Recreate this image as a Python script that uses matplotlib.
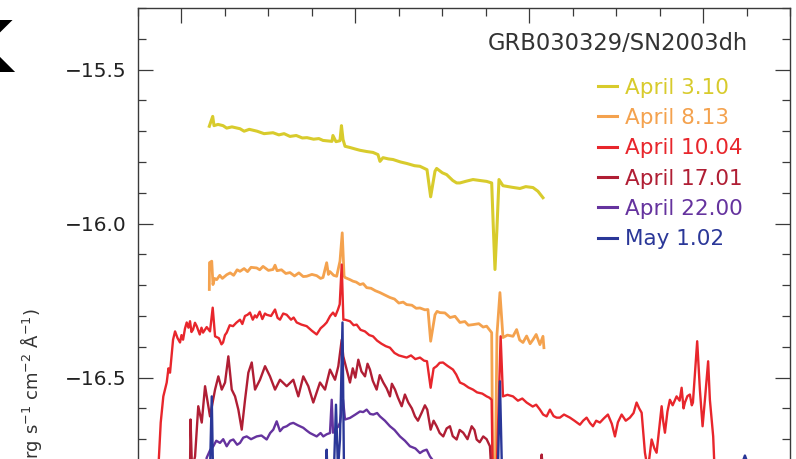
import matplotlib
matplotlib.use("Agg")
import matplotlib.pyplot as plt
from matplotlib.ticker import MultipleLocator

plt.rcParams["font.family"] = ["DejaVu Sans"]

lam_a = [4320, 4359, 4374, 4420, 4478, 4520, 4580, 4673, 4720, 4780, 4869, 4950, 5053, 5120, 5180,
         5248, 5320, 5390, 5444, 5520, 5580, 5628, 5731, 5742, 5777, 5823, 5840, 5858, 5881, 5938,
         6000, 6053, 6130, 6203, 6260, 6283, 6318, 6380, 6433, 6520, 6594, 6680, 6743, 6824, 6866,
         6916, 6935, 7000, 7050, 7120, 7165, 7203, 7280, 7353, 7430, 7510, 7568, 7588, 7606, 7628,
         7652, 7698, 7800, 7893, 7960, 8043, 8100, 8158]
flux_a = [-15.684, -15.652, -15.682, -15.678, -15.682, -15.690, -15.686, -15.692, -15.700, -15.694,
          -15.700, -15.708, -15.705, -15.712, -15.708, -15.717, -15.714, -15.722, -15.721, -15.726,
          -15.724, -15.730, -15.733, -15.714, -15.734, -15.731, -15.682, -15.727, -15.749, -15.753,
          -15.758, -15.762, -15.766, -15.769, -15.776, -15.798, -15.786, -15.790, -15.792, -15.800,
          -15.805, -15.812, -15.814, -15.825, -15.913, -15.830, -15.821, -15.835, -15.841, -15.860,
          -15.868, -15.868, -15.862, -15.857, -15.860, -15.863, -15.868, -16.020, -16.149, -16.020,
          -15.857, -15.877, -15.882, -15.886, -15.880, -15.883, -15.895, -15.916]

lam_b = [4320, 4322, 4348, 4362, 4380, 4405, 4440, 4470, 4520, 4560, 4600, 4640, 4673, 4720, 4760,
         4800, 4865, 4900, 4938, 5000, 5053, 5076, 5099, 5150, 5200, 5248, 5300, 5350, 5400, 5440,
         5500, 5555, 5600, 5628, 5670, 5690, 5708, 5750, 5785, 5823, 5849, 5870, 5881, 5938, 5973,
         6010, 6053, 6090, 6130, 6180, 6230, 6283, 6340, 6398, 6450, 6500, 6550, 6590, 6650, 6700,
         6743, 6800, 6835, 6866, 6916, 6940, 6973, 7030, 7090, 7146, 7203, 7260, 7300, 7353, 7420,
         7470, 7510, 7568, 7583, 7606, 7629, 7663, 7698, 7750, 7813, 7855, 7890, 7928, 7970, 8010,
         8043, 8080, 8123, 8158, 8169]
flux_b = [-16.214, -16.127, -16.122, -16.198, -16.178, -16.182, -16.168, -16.178, -16.166, -16.160,
          -16.168, -16.150, -16.155, -16.146, -16.156, -16.142, -16.144, -16.150, -16.139, -16.152,
          -16.149, -16.135, -16.153, -16.150, -16.162, -16.159, -16.170, -16.160, -16.172, -16.171,
          -16.165, -16.169, -16.178, -16.175, -16.127, -16.165, -16.156, -16.168, -16.171, -16.122,
          -16.030, -16.170, -16.175, -16.182, -16.187, -16.190, -16.198, -16.195, -16.208, -16.210,
          -16.218, -16.224, -16.232, -16.240, -16.245, -16.258, -16.255, -16.263, -16.265, -16.275,
          -16.274, -16.280, -16.279, -16.382, -16.296, -16.285, -16.289, -16.290, -16.305, -16.301,
          -16.321, -16.318, -16.330, -16.328, -16.325, -16.336, -16.333, -16.354, -16.900, -16.900,
          -16.360, -16.224, -16.370, -16.362, -16.366, -16.344, -16.378, -16.386, -16.365, -16.390,
          -16.377, -16.360, -16.393, -16.366, -16.403]

lam_c = [3733, 3761, 3791, 3830, 3850, 3868, 3903, 3926, 3955, 3983, 4000, 4018, 4040, 4060, 4080,
         4098, 4115, 4133, 4155, 4175, 4210, 4230, 4248, 4290, 4328, 4359, 4386, 4430, 4460, 4478,
         4500, 4520, 4555, 4593, 4630, 4673, 4700, 4730, 4760, 4788, 4820, 4845, 4865, 4900, 4930,
         4960, 4980, 5030, 5076, 5105, 5133, 5170, 5210, 5260, 5290, 5325, 5380, 5440, 5500, 5555,
         5600, 5640, 5670, 5710, 5743, 5770, 5800, 5820, 5843, 5862, 5881, 5938, 5980, 6015, 6060,
         6110, 6160, 6203, 6250, 6300, 6350, 6398, 6450, 6500, 6550, 6590, 6640, 6690, 6743, 6790,
         6824, 6866, 6900, 6935, 6970, 7008, 7060, 7123, 7160, 7203, 7250, 7300, 7353, 7400, 7460,
         7510, 7540, 7568, 7583, 7617, 7671, 7698, 7750, 7813, 7870, 7920, 7970, 8040, 8080, 8123,
         8160, 8200, 8238, 8280, 8315, 8353, 8400, 8468, 8520, 8583, 8620, 8660, 8700, 8733, 8770,
         8813, 8860, 8905, 8950, 8986, 9020, 9063, 9110, 9158, 9200, 9235, 9265, 9293, 9331, 9365,
         9408, 9440, 9465, 9523, 9540, 9561, 9590, 9618, 9650, 9695, 9730, 9753, 9775, 9791, 9820,
         9848, 9870, 9883, 9932, 9963, 9994, 10021, 10058, 10078, 10100, 10116, 10147]
flux_c = [-16.799, -16.646, -16.561, -16.516, -16.470, -16.484, -16.377, -16.350, -16.372, -16.386,
          -16.362, -16.377, -16.341, -16.321, -16.338, -16.317, -16.352, -16.344, -16.322, -16.333,
          -16.360, -16.338, -16.354, -16.336, -16.350, -16.273, -16.366, -16.372, -16.392, -16.386,
          -16.362, -16.354, -16.330, -16.333, -16.322, -16.312, -16.326, -16.300, -16.296, -16.289,
          -16.312, -16.298, -16.305, -16.286, -16.310, -16.292, -16.296, -16.300, -16.279, -16.306,
          -16.312, -16.292, -16.296, -16.312, -16.305, -16.321, -16.328, -16.333, -16.348, -16.360,
          -16.340, -16.330, -16.321, -16.300, -16.289, -16.300, -16.279, -16.262, -16.133, -16.312,
          -16.312, -16.317, -16.330, -16.328, -16.345, -16.350, -16.362, -16.366, -16.380, -16.390,
          -16.398, -16.403, -16.420, -16.428, -16.432, -16.435, -16.428, -16.440, -16.435, -16.445,
          -16.447, -16.533, -16.470, -16.463, -16.452, -16.451, -16.462, -16.474, -16.490, -16.516,
          -16.522, -16.532, -16.539, -16.548, -16.552, -16.561, -16.565, -16.572, -16.900, -16.900,
          -16.366, -16.561, -16.556, -16.561, -16.575, -16.568, -16.581, -16.594, -16.588, -16.604,
          -16.620, -16.626, -16.604, -16.625, -16.630, -16.630, -16.620, -16.630, -16.640, -16.653,
          -16.640, -16.630, -16.648, -16.658, -16.640, -16.646, -16.632, -16.620, -16.650, -16.691,
          -16.645, -16.620, -16.640, -16.630, -16.615, -16.581, -16.600, -16.614, -16.744, -16.799,
          -16.701, -16.730, -16.744, -16.593, -16.640, -16.679, -16.610, -16.572, -16.590, -16.561,
          -16.575, -16.533, -16.600, -16.581, -16.560, -16.555, -16.590, -16.581, -16.382, -16.539,
          -16.658, -16.572, -16.447, -16.572, -16.640, -16.691, -16.900]

lam_d = [4098, 4104, 4121, 4156, 4193, 4233, 4271, 4328, 4386, 4424, 4463, 4501, 4539, 4578, 4616,
         4654, 4693, 4731, 4769, 4808, 4846, 4903, 4961, 5018, 5076, 5133, 5210, 5286, 5344, 5401,
         5459, 5516, 5593, 5651, 5708, 5766, 5804, 5843, 5861, 5900, 5938, 5970, 6000, 6034, 6070,
         6111, 6140, 6168, 6200, 6245, 6280, 6321, 6360, 6398, 6420, 6456, 6490, 6533, 6570, 6609,
         6650, 6686, 6720, 6763, 6800, 6827, 6866, 6900, 6935, 6970, 7011, 7050, 7088, 7120, 7165,
         7200, 7241, 7290, 7338, 7370, 7395, 7430, 7471, 7510, 7548, 7583, 7663, 7893, 8123, 8143,
         8158]
flux_d = [-16.799, -16.636, -16.799, -16.756, -16.593, -16.646, -16.528, -16.626, -16.539, -16.496,
          -16.539, -16.516, -16.431, -16.539, -16.561, -16.604, -16.669, -16.572, -16.484, -16.451,
          -16.539, -16.507, -16.463, -16.496, -16.539, -16.507, -16.528, -16.507, -16.561, -16.496,
          -16.528, -16.581, -16.516, -16.539, -16.474, -16.507, -16.463, -16.377, -16.431, -16.474,
          -16.516, -16.470, -16.500, -16.442, -16.480, -16.496, -16.455, -16.474, -16.510, -16.539,
          -16.492, -16.516, -16.535, -16.561, -16.520, -16.539, -16.565, -16.593, -16.555, -16.581,
          -16.600, -16.626, -16.640, -16.614, -16.590, -16.604, -16.669, -16.640, -16.658, -16.680,
          -16.691, -16.665, -16.658, -16.690, -16.701, -16.670, -16.679, -16.700, -16.658, -16.670,
          -16.701, -16.710, -16.691, -16.700, -16.723, -16.900, -16.799, -16.799, -16.799, -16.750,
          -16.799]

lam_e = [4271, 4290, 4330, 4366, 4400, 4443, 4480, 4520, 4560, 4596, 4640, 4673, 4710, 4750, 4800,
         4865, 4920, 4980, 5020, 5056, 5095, 5133, 5170, 5210, 5250, 5286, 5340, 5401, 5440, 5478,
         5520, 5555, 5600, 5631, 5670, 5708, 5728, 5743, 5766, 5800, 5823, 5858, 5881, 5938, 6000,
         6053, 6090, 6130, 6170, 6206, 6250, 6283, 6340, 6398, 6450, 6513, 6570, 6628, 6690, 6743,
         6780, 6820, 6858, 6973, 7433]
flux_e = [-16.799, -16.760, -16.735, -16.723, -16.705, -16.712, -16.700, -16.723, -16.705, -16.701,
          -16.718, -16.712, -16.695, -16.691, -16.700, -16.691, -16.688, -16.701, -16.680, -16.669,
          -16.642, -16.674, -16.662, -16.658, -16.650, -16.647, -16.655, -16.663, -16.672, -16.680,
          -16.686, -16.691, -16.680, -16.691, -16.684, -16.680, -16.572, -16.679, -16.669, -16.660,
          -16.647, -16.572, -16.636, -16.631, -16.620, -16.610, -16.612, -16.604, -16.618, -16.620,
          -16.615, -16.626, -16.640, -16.658, -16.670, -16.691, -16.705, -16.723, -16.730, -16.745,
          -16.738, -16.734, -16.756, -16.799, -16.815]

lam_f = [4271, 4328, 4348, 4362, 4558, 5363, 5662, 5670, 5679, 5754, 5777, 5800, 5823, 5852, 5869,
         5938, 6743, 7548, 7640, 7663, 7686, 8353, 10423, 10481, 10538, 10768]
flux_f = [-16.831, -16.799, -16.561, -16.799, -16.815, -16.815, -16.815, -16.734, -16.815, -16.799,
          -16.588, -16.799, -16.701, -16.321, -16.799, -16.831, -16.831, -16.831, -16.799, -16.512,
          -16.799, -16.831, -16.799, -16.753, -16.799, -16.831]

labels = ["April 3.10", "April 8.13", "April 10.04", "April 17.01", "April 22.00", "May 1.02"]
colors = ["#d8cb2c", "#f4a24e", "#e8262c", "#b01e34", "#65339e", "#2a3798"]
widths = [2.2, 2.0, 1.7, 1.7, 1.7, 1.7]

spectra = [(lam_a, flux_a), (lam_b, flux_b), (lam_c, flux_c),
           (lam_d, flux_d), (lam_e, flux_e), (lam_f, flux_f)]

fig = plt.figure(figsize=(7.96, 4.59), dpi=100)
# the panel continues below the visible crop
ax = fig.add_axes([0.1734, -0.1246, 0.8191, 1.1072])

for (lam, flux), lab, c, lw in zip(spectra, labels, colors, widths):
    ax.plot(lam, flux, color=c, lw=lw, label=lab)

ax.set_xlim(3500, 11000)
ax.set_ylim(-16.95, -15.3)
ax.xaxis.set_major_locator(MultipleLocator(2000))
ax.xaxis.set_minor_locator(MultipleLocator(500))
ax.yaxis.set_major_locator(MultipleLocator(0.5))
ax.yaxis.set_minor_locator(MultipleLocator(0.1))
ax.tick_params(which="both", direction="in", top=True, right=True, labelbottom=False,
               color="#3a3a3a", width=0.9, labelsize=14.5, labelcolor="#222222")
ax.tick_params(which="major", length=11, pad=8)
ax.tick_params(which="minor", length=6)
for s in ax.spines.values():
    s.set_color("#3a3a3a")
    s.set_linewidth(1.0)

ax.text(0.9356, 0.917, "GRB030329/SN2003dh", transform=ax.transAxes,
        ha="right", va="baseline", fontsize=16.3, color="#333333")

leg = ax.legend(loc="upper left", bbox_to_anchor=(0.7055, 0.863), frameon=False,
                borderpad=0, borderaxespad=0, fontsize=15.5, labelcolor="linecolor",
                handlelength=0.9, handletextpad=0.37, labelspacing=0.48)
for h in leg.get_lines():
    h.set_linewidth(2.2)

fig.text(0.039, 0.329, r"log F$_\lambda$ (erg s$^{-1}$ cm$^{-2}$ Å$^{-1}$)",
         rotation=90, ha="center", va="top", fontsize=13, color="#333333")
fig.text(13 / 796, 0.843, "K", fontsize=51, fontweight="bold", ha="right", va="baseline")

fig.savefig("out.png", dpi=100)
